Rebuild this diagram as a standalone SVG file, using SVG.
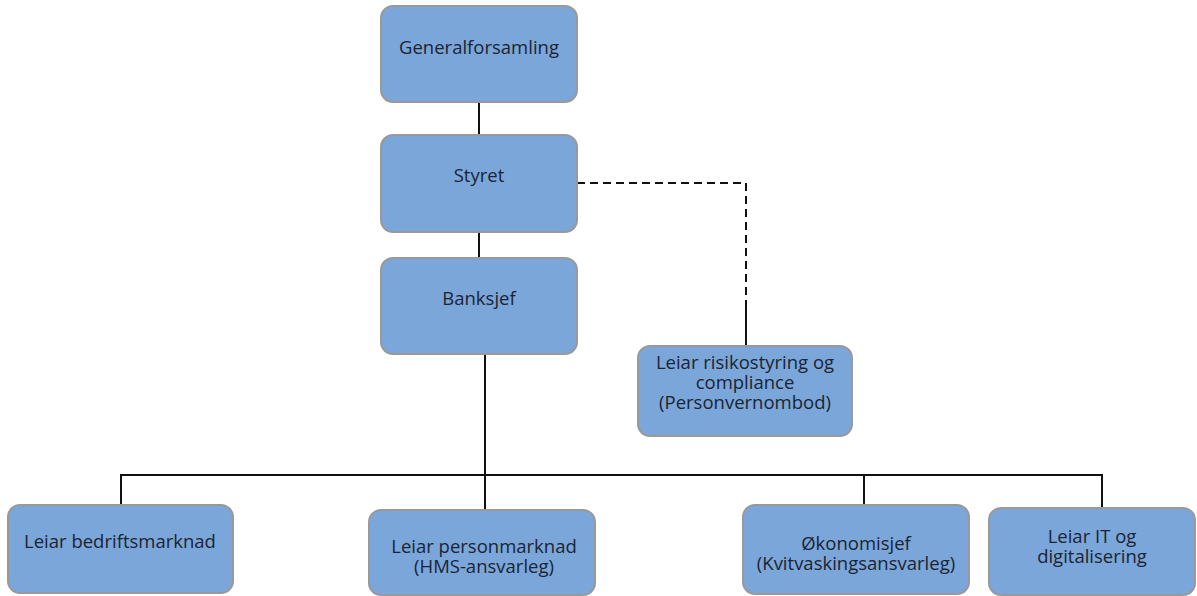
<svg xmlns="http://www.w3.org/2000/svg" width="1197" height="596" viewBox="0 0 1197 596">
<style>
.box{fill:#7aa6d9;stroke:#999;stroke-width:2}
.t{font-family:"Open Sans","Liberation Sans",sans-serif;font-size:18.5px;fill:#1c2433;text-anchor:middle}
.ln{fill:none;stroke:#111;stroke-width:2}
.dash{fill:none;stroke:#111;stroke-width:2;stroke-dasharray:8,5}
</style>
<rect width="1197" height="596" fill="#fff"/>
<g id="connectors">
<line class="ln" x1="479" y1="102" x2="479" y2="135"/>
<line class="ln" x1="479" y1="232" x2="479" y2="258"/>
<path class="dash" d="M577,183 H746 V310"/>
<line class="ln" x1="746" y1="308" x2="746" y2="346"/>
<line class="ln" x1="485" y1="354" x2="485" y2="510"/>
<path class="ln" d="M121,505 V475 H1102 V508"/>
<line class="ln" x1="864" y1="475" x2="864" y2="505"/>
</g>
<g id="generalforsamling">
<rect class="box" x="381" y="6" width="196" height="96" rx="12"/>
<text class="t" x="479" y="54">Generalforsamling</text>
</g>
<g id="styret">
<rect class="box" x="381" y="135" width="196" height="97" rx="12"/>
<text class="t" x="479" y="182">Styret</text>
</g>
<g id="banksjef">
<rect class="box" x="381" y="258" width="196" height="96" rx="12"/>
<text class="t" x="479" y="305">Banksjef</text>
</g>
<g id="risiko">
<rect class="box" x="638" y="346" width="214" height="90" rx="12"/>
<text class="t" x="745" y="369">Leiar risikostyring og</text>
<text class="t" x="745" y="389">compliance</text>
<text class="t" x="745" y="409">(Personvernombod)</text>
</g>
<g id="bedriftsmarknad">
<rect class="box" x="8" y="505" width="225" height="88" rx="12"/>
<text class="t" x="120" y="548">Leiar bedriftsmarknad</text>
</g>
<g id="personmarknad">
<rect class="box" x="369" y="510" width="226" height="85" rx="12"/>
<text class="t" x="484" y="553">Leiar personmarknad</text>
<text class="t" x="484" y="573">(HMS-ansvarleg)</text>
</g>
<g id="okonomisjef">
<rect class="box" x="743" y="505" width="226" height="89" rx="12"/>
<text class="t" x="856" y="550">Økonomisjef</text>
<text class="t" x="856" y="570">(Kvitvaskingsansvarleg)</text>
</g>
<g id="it">
<rect class="box" x="989" y="508" width="206" height="87" rx="12"/>
<text class="t" x="1092" y="543">Leiar IT og</text>
<text class="t" x="1092" y="563">digitalisering</text>
</g>
</svg>
